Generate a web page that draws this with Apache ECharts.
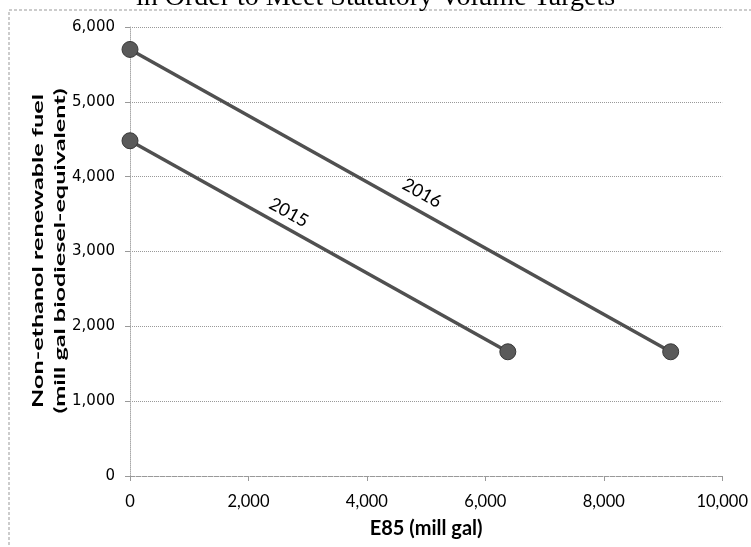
<!DOCTYPE html>
<html>
<head>
<meta charset="utf-8">
<script src="https://cdn.jsdelivr.net/npm/echarts@6/dist/echarts.min.js"></script>
<style>html,body{margin:0;padding:0;background:#fff;}#c{width:751px;height:547px;}</style>
</head>
<body>
<div id="c"></div>
<script>
var titleText = 'in Order to Meet Statutory Volume Targets';
var xTitle = 'E85 (mill gal)';
var yTitle = 'Non-ethanol renewable fuel\n(mill gal biodiesel-equivalent)';
var series2015 = [[0, 4480], [6380, 1660]];
var series2016 = [[0, 5700], [9130, 1660]];
var label2015 = {name: '2015', coord: [2680, 3520]};
var label2016 = {name: '2016', coord: [4930, 3780]};
var xMin = 0, xMax = 10000, xStep = 2000;
var yMin = 0, yMax = 6000, yStep = 1000;

var chart = echarts.init(document.getElementById('c'), null, {renderer: 'canvas'});
function fmt(v){ return v.toLocaleString('en-US'); }
function lineSeries(name, data, lab){
  return {
    name: name, type: 'line', data: data,
    symbol: 'circle', symbolSize: 16,
    lineStyle: {color: '#505050', width: 3.5},
    itemStyle: {color: '#5a5a5a', borderColor: '#383838', borderWidth: 1},
    z: 3,
    markPoint: {
      symbol: 'circle', symbolSize: 0,
      data: [{name: lab.name, coord: lab.coord, value: lab.name}],
      label: {show: true, position: 'inside', formatter: lab.name, rotate: -29,
        fontFamily: 'Lato', fontSize: 18, color: '#000', fontWeight: 'normal'}
    }
  };
}
chart.setOption({
  animation: false,
  backgroundColor: '#fff',
  title: {text: titleText, left: 'center', top: -21,
    textStyle: {fontFamily: 'Liberation Serif', fontSize: 28, fontWeight: 'normal', color: '#000'}},
  graphic: [
    {type: 'rect', shape: {x: 9, y: 10, width: 780, height: 600}, silent: true,
      style: {fill: 'none', stroke: '#999', lineWidth: 1, lineDash: [3, 2]}, z: -1},
    {type: 'text', x: 49, y: 251, rotation: Math.PI / 2, scaleX: 1.68, scaleY: 1, silent: true,
      style: {text: yTitle, fontFamily: 'Lato', fontWeight: 'bold', fontSize: 15, lineHeight: 22,
        fill: '#000', align: 'center', verticalAlign: 'middle'}}
  ],
  grid: {left: 130, right: 23, top: 27, bottom: 71},
  xAxis: {
    type: 'value', min: xMin, max: xMax, interval: xStep,
    name: xTitle, nameLocation: 'middle', nameGap: 43,
    nameTextStyle: {fontFamily: 'Lato', fontWeight: 'bold', fontSize: 20, color: '#000'},
    axisLine: {show: true, lineStyle: {color: '#999', type: 'dashed', width: 1}},
    axisTick: {show: true, length: 5, lineStyle: {color: '#999'}},
    splitLine: {show: false},
    axisLabel: {formatter: fmt, fontFamily: 'Lato', fontSize: 16.5, color: '#000', margin: 17}
  },
  yAxis: {
    type: 'value', min: yMin, max: yMax, interval: yStep,
    axisLine: {show: true, lineStyle: {color: '#aaa', type: 'dotted', width: 1}},
    axisTick: {show: true, length: 5, lineStyle: {color: '#999'}},
    splitLine: {show: true, lineStyle: {color: '#999', type: 'dotted', width: 1}},
    axisLabel: {formatter: fmt, fontFamily: 'DejaVu Sans', fontSize: 15, color: '#000', margin: 15}
  },
  series: [lineSeries('2015', series2015, label2015), lineSeries('2016', series2016, label2016)]
});
</script>
</body>
</html>
